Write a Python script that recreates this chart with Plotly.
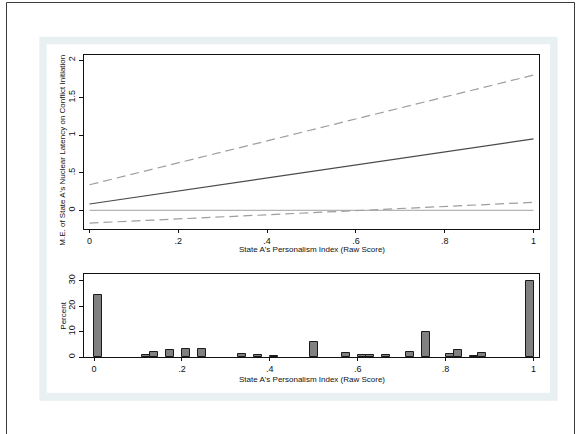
import plotly.graph_objects as go

# Marginal effect of nuclear latency across the personalism index
x_line = [0.0, 1.0]
me_est = [0.084, 0.95]
ci_upper = [0.34, 1.80]
ci_lower = [-0.17, 0.106]

# Histogram of the personalism index (percent of observations per bin)
bin_width = 1 / 55
bin_centers = [0.0091, 0.1182, 0.1364, 0.1727, 0.2091, 0.2455, 0.3364, 0.3727,
               0.4091, 0.5000, 0.5727, 0.6091, 0.6273, 0.6636, 0.7182, 0.7545,
               0.8091, 0.8273, 0.8636, 0.8818, 0.9909]
percent = [24.2, 0.8, 2.0, 2.7, 3.3, 3.1, 1.2, 0.7,
           0.3, 5.9, 1.5, 0.8, 0.9, 0.7, 1.85, 9.7,
           1.2, 2.6, 0.35, 1.6, 30.0]

x_ticks = [0, 0.2, 0.4, 0.6, 0.8, 1]
x_tick_text = ["0", ".2", ".4", ".6", ".8", "1"]
me_ticks = [0, 0.5, 1, 1.5, 2]
me_tick_text = ["0", ".5", "1", "1.5", "2"]
pct_ticks = [0, 10, 20, 30]

x_title = "State A's Personalism Index (Raw Score)"
me_title = "M.E. of State A's Nuclear Latency on Conflict Initiation"
pct_title = "Percent"

W, H = 578, 434
FONT = "Liberation Sans, Arial, sans-serif"


def px(v):
    return v / W


def py(v):
    return 1 - v / H


fig = go.Figure()

fig.add_trace(go.Scatter(x=x_line, y=[0, 0], mode="lines",
                         line=dict(color="#b4b4b4", width=1.2),
                         xaxis="x", yaxis="y", hoverinfo="skip"))
fig.add_trace(go.Scatter(x=x_line, y=ci_upper, mode="lines",
                         line=dict(color="#9e9e9e", width=1.2, dash="9px,5px"),
                         xaxis="x", yaxis="y"))
fig.add_trace(go.Scatter(x=x_line, y=ci_lower, mode="lines",
                         line=dict(color="#9e9e9e", width=1.2, dash="9px,5px"),
                         xaxis="x", yaxis="y"))
fig.add_trace(go.Scatter(x=x_line, y=me_est, mode="lines",
                         line=dict(color="#4a4a4a", width=1.2),
                         xaxis="x", yaxis="y"))

fig.add_trace(go.Bar(x=bin_centers, y=percent, width=bin_width,
                     marker=dict(color="#808080",
                                 line=dict(color="#1a1a1a", width=1)),
                     xaxis="x2", yaxis="y2"))

axis_common = dict(
    showgrid=False, zeroline=False, showline=True, linecolor="#111",
    linewidth=1.3, mirror=True, ticks="outside", ticklen=3, tickwidth=1,
    tickcolor="#111", tickfont=dict(family=FONT, size=9, color="#111"),
    automargin=False, fixedrange=True,
)

fig.update_layout(
    width=W, height=H,
    margin=dict(l=0, r=0, t=0, b=0),
    paper_bgcolor="white", plot_bgcolor="white",
    showlegend=False,
    bargap=0,
    font=dict(family=FONT, color="#111"),
    xaxis=dict(axis_common, domain=[px(84), px(539)], range=[-0.0124, 1.0124],
               tickvals=x_ticks, ticktext=x_tick_text, anchor="y"),
    yaxis=dict(axis_common, domain=[py(229), py(55)], range=[-0.249, 2.067],
               tickvals=me_ticks, ticktext=me_tick_text, tickangle=-90,
               anchor="x", ticklen=4),
    xaxis2=dict(axis_common, domain=[px(84), px(539)], range=[-0.0228, 1.0125],
                tickvals=x_ticks, ticktext=x_tick_text, anchor="y2"),
    yaxis2=dict(axis_common, domain=[py(357), py(274)], range=[0, 32.6],
                tickvals=pct_ticks, tickangle=-90, anchor="x2", ticklen=4),
)

# Outer frame, tinted graph region and white inner region
fig.add_shape(type="rect", xref="paper", yref="paper",
              x0=px(6.5), x1=px(574.5), y0=py(440), y1=py(2.5),
              line=dict(color="#3c3c3c", width=1), fillcolor="white",
              layer="below")
fig.add_shape(type="rect", xref="paper", yref="paper",
              x0=px(39.3), x1=px(557.7), y0=py(400.7), y1=py(36.7),
              line=dict(width=0), fillcolor="#e8f0f2", layer="below")
fig.add_shape(type="rect", xref="paper", yref="paper",
              x0=px(46.7), x1=px(550), y0=py(392.7), y1=py(44.3),
              line=dict(width=0), fillcolor="white", layer="below")

title_font = dict(family=FONT, size=8, color="#111")
title_common = dict(xref="paper", yref="paper", showarrow=False,
                    xanchor="center", yanchor="middle", font=title_font)
fig.add_annotation(title_common, text=x_title, x=px(311.5), y=py(250))
fig.add_annotation(title_common, text=x_title, x=px(311.5), y=py(379))
fig.add_annotation(title_common, text=me_title, x=px(62.7), y=py(150),
                   textangle=-90)
fig.add_annotation(title_common, text=pct_title, x=px(62.7), y=py(316),
                   textangle=-90)

fig.write_html("out.html")
